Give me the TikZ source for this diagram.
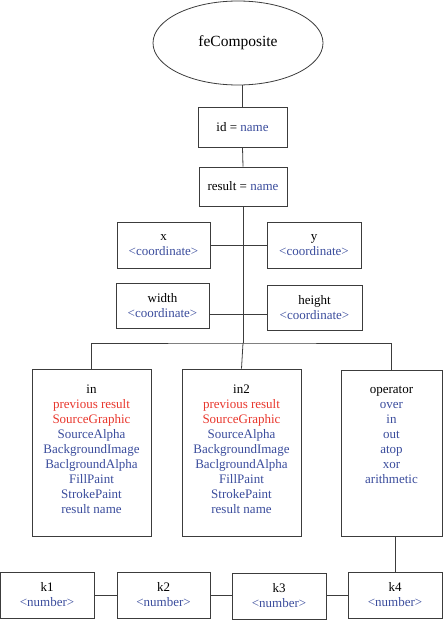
\documentclass[tikz,border=0pt]{standalone}
\usepackage{fontspec}
\setmainfont{Liberation Serif}
\newfontfamily\tnr{Liberation Serif}
\usetikzlibrary{shapes.geometric}
\definecolor{vblue}{HTML}{3A4C9C}
\definecolor{vred}{HTML}{E8362C}
\definecolor{lgray}{HTML}{3C3C3C}
\tikzset{
  boxed/.style={draw=lgray, line width=0.8pt, rectangle, inner sep=0pt, align=center,
    font=\tnr\fontsize{13}{15}\selectfont},
  inbox/.style={inner sep=0pt, align=center, anchor=north, font=\tnr\fontsize{13}{15}\selectfont},
  conn/.style={draw=lgray, line width=0.8pt},
}
\newcommand{\bl}[1]{\textcolor{vblue}{#1}}
\newcommand{\rd}[1]{\textcolor{vred}{#1}}
\begin{document}
\begin{tikzpicture}[x=1pt,y=-1pt]
\useasboundingbox (0,0) rectangle (443,620);
\node[ellipse, draw=lgray, line width=0.8pt, minimum width=170pt, minimum height=84pt, inner sep=0pt,
  font=\tnr\fontsize{15.5}{18}\selectfont] (fe) at (238,43) {feComposite};
\node[boxed, minimum width=89pt, minimum height=40pt] (id) at (242.5,127) {id = \bl{name}};
\node[boxed, minimum width=88pt, minimum height=39pt] (result) at (243,186.5) {result = \bl{name}};
\node[boxed, minimum width=93pt, minimum height=46pt] (x) at (163.5,245) {x\\\bl{<coordinate>}};
\node[boxed, minimum width=94pt, minimum height=46pt] (y) at (314,245) {y\\\bl{<coordinate>}};
\node[boxed, minimum width=93pt, minimum height=45pt] (width) at (162.5,305.5) {width\\\bl{<coordinate>}};
\node[boxed, minimum width=95pt, minimum height=45pt] (height) at (314.5,307.5) {height\\\bl{<coordinate>}};
\node[boxed, minimum width=119pt, minimum height=167pt] (in) at (91.5,452.5) {};
\node[boxed, minimum width=119pt, minimum height=167pt] (in2) at (241.5,452.5) {};
\node[boxed, minimum width=101pt, minimum height=166pt] (op) at (391.5,453) {};
\node[inbox] (intext) at ([yshift=-16pt]in.north) {in\\\rd{previous result}\\\rd{SourceGraphic}\\\bl{SourceAlpha}\\\bl{BackgroundImage}\\\bl{BaclgroundAlpha}\\\bl{FillPaint}\\\bl{StrokePaint}\\\bl{result name}};
\node[inbox] (in2text) at ([yshift=-16pt]in2.north) {in2\\\rd{previous result}\\\rd{SourceGraphic}\\\bl{SourceAlpha}\\\bl{BackgroundImage}\\\bl{BaclgroundAlpha}\\\bl{FillPaint}\\\bl{StrokePaint}\\\bl{result name}};
\node[inbox] (optext) at ([yshift=-16pt]op.north) {operator\\\bl{over}\\\bl{in}\\\bl{out}\\\bl{atop}\\\bl{xor}\\\bl{arithmetic}};
\node[boxed, minimum width=94pt, minimum height=46pt] (k1) at (47,595) {k1\\\bl{<number>}};
\node[boxed, minimum width=93pt, minimum height=46pt] (k2) at (163.5,595) {k2\\\bl{<number>}};
\node[boxed, minimum width=94pt, minimum height=46pt] (k3) at (279,596) {k3\\\bl{<number>}};
\node[boxed, minimum width=94pt, minimum height=46pt] (k4) at (395,595) {k4\\\bl{<number>}};
% connectors
\coordinate (hw) at (243,314);
\coordinate (br) at (243,343);
\draw[conn] (id.north) -- (id.north |- fe.south);
\draw[conn] (id.south) -- (result.north);
\draw[conn] (result.south) -- (br);
\draw[conn] (x.east) -- (y.west);
\draw[conn] (width.east |- hw) -- (height.west |- hw);
\draw[conn] (in.north) |- (br) -| (op.north);
\draw[conn] (br) -- (in2.north);
\draw[conn] (k4.north) -- (k4.north |- op.south);
\draw[conn] (k1.east) -- (k2.west);
\draw[conn] (k2.east) -- (k3.west |- k2.east);
\draw[conn] (k3.east |- k4.west) -- (k4.west);
\end{tikzpicture}
\end{document}
